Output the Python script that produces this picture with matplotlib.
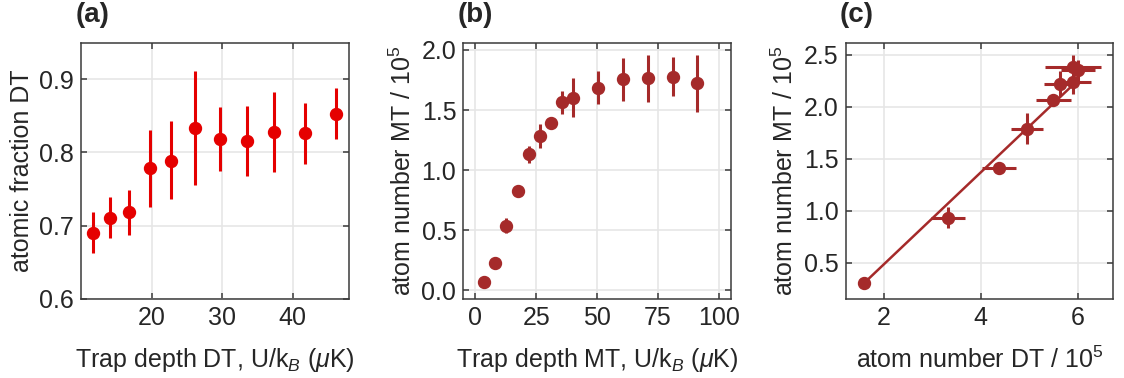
import numpy as np
import matplotlib
matplotlib.use("Agg")
import matplotlib.pyplot as plt

# (a) atomic fraction in DT vs DT trap depth
a_depth = [11.7, 14.1, 16.8, 19.8, 22.8, 26.2, 29.7, 33.5, 37.4, 41.7, 46.1]
a_frac = [0.690, 0.711, 0.718, 0.779, 0.789, 0.834, 0.818, 0.816, 0.828, 0.826, 0.853]
a_lo = [0.662, 0.683, 0.687, 0.726, 0.736, 0.756, 0.775, 0.768, 0.773, 0.784, 0.818]
a_hi = [0.718, 0.739, 0.748, 0.831, 0.843, 0.912, 0.862, 0.864, 0.883, 0.868, 0.888]

# (b) atom number MT vs MT trap depth
b_depth = [3.4, 8.0, 12.6, 17.4, 21.9, 26.5, 30.9, 35.7, 40.2, 50.3, 60.8, 70.8, 81.1, 91.2]
b_num = [0.069, 0.23, 0.536, 0.828, 1.131, 1.283, 1.394, 1.564, 1.603, 1.686, 1.756, 1.764, 1.778, 1.722]
b_err = [0.02, 0.03, 0.063, 0.03, 0.07, 0.10, 0.04, 0.096, 0.16, 0.139, 0.18, 0.195, 0.16, 0.234]

# (c) atom number MT vs atom number DT, with linear fit
c_dt = [1.595, 3.326, 4.371, 4.948, 5.498, 5.64, 5.897, 5.90, 6.01]
c_mt = [0.304, 0.934, 1.411, 1.789, 2.067, 2.221, 2.237, 2.384, 2.352]
c_dt_err = [0.05, 0.34, 0.35, 0.33, 0.37, 0.33, 0.37, 0.58, 0.35]
c_mt_err = [0.02, 0.10, 0.03, 0.147, 0.04, 0.12, 0.11, 0.11, 0.10]
fit_slope = 0.443
fit_icpt = -0.403

RED = "#e50000"
BROWN = "#a52a2a"
TXT = "#262626"

plt.rcParams.update({
    "font.family": ["Liberation Sans", "DejaVu Sans"],
    "font.size": 18,
    "mathtext.fontset": "custom",
    "mathtext.rm": "Liberation Sans",
    "mathtext.it": "Liberation Sans:italic",
    "text.color": TXT,
    "axes.labelcolor": TXT,
    "xtick.color": "#3a3a3a",
    "ytick.color": "#3a3a3a",
    "xtick.labelcolor": TXT,
    "ytick.labelcolor": TXT,
    "axes.edgecolor": "#3a3a3a",
    "axes.linewidth": 1.1,
})

fig = plt.figure(figsize=(11.24, 3.78), dpi=100)
boxes = [(0.0721, 0.2098, 0.2384, 0.677),
         (0.4122, 0.2098, 0.2382, 0.677),
         (0.7524, 0.2098, 0.2381, 0.677)]
axes = [fig.add_axes(b) for b in boxes]


def style(ax):
    ax.grid(True, color="#e6e6e6", linewidth=1.2, zorder=0)
    ax.set_axisbelow(True)
    ax.tick_params(direction="in", length=4.5, width=1.1, top=True, right=True,
                   pad=5)


ax = axes[0]
style(ax)
frac = np.array(a_frac)
ax.errorbar(a_depth, frac, yerr=[frac - np.array(a_lo), np.array(a_hi) - frac],
            fmt="o", color=RED, ms=8.6, elinewidth=2.2, capsize=0, zorder=3)
ax.set_xlim(10, 48)
ax.set_ylim(0.6, 0.95)
ax.set_xticks([20, 30, 40])
ax.set_yticks([0.6, 0.7, 0.8, 0.9])
ax.set_xlabel("Trap depth DT, U/k$_{B}$ ($\\mu$K)", labelpad=12)
ax.set_ylabel("atomic fraction DT")

ax = axes[1]
style(ax)
ax.errorbar(b_depth, b_num, yerr=b_err, fmt="o", color=BROWN, ms=8.6,
            elinewidth=2.2, capsize=0, zorder=3)
ax.set_xlim(-5, 105)
ax.set_ylim(-0.07, 2.06)
ax.set_xticks([0, 25, 50, 75, 100])
ax.set_yticks([0.0, 0.5, 1.0, 1.5, 2.0])
ax.set_xlabel("Trap depth MT, U/k$_{B}$ ($\\mu$K)", labelpad=12)
ax.set_ylabel("atom number MT / 10$^{5}$")

ax = axes[2]
style(ax)
fx = np.array([min(c_dt), max(c_dt) - 0.05])
ax.plot(fx, fit_slope * fx + fit_icpt, color=BROWN, lw=1.8, zorder=2)
ax.errorbar(c_dt, c_mt, xerr=c_dt_err, yerr=c_mt_err, fmt="o", color=BROWN,
            ms=8.6, elinewidth=2.2, capsize=0, zorder=3)
ax.set_xlim(1.22, 6.73)
ax.set_ylim(0.155, 2.615)
ax.set_xticks([2, 4, 6])
ax.set_yticks([0.5, 1.0, 1.5, 2.0, 2.5])
ax.set_xlabel("atom number DT / 10$^{5}$", labelpad=12)
ax.set_ylabel("atom number MT / 10$^{5}$")

for lab, x in zip(["(a)", "(b)", "(c)"], [76, 458, 840]):
    fig.text(x / 1124, 1 - 2 / 378, lab, fontsize=20, fontweight="bold",
             va="top", ha="left")

fig.savefig("out.png", dpi=100)
